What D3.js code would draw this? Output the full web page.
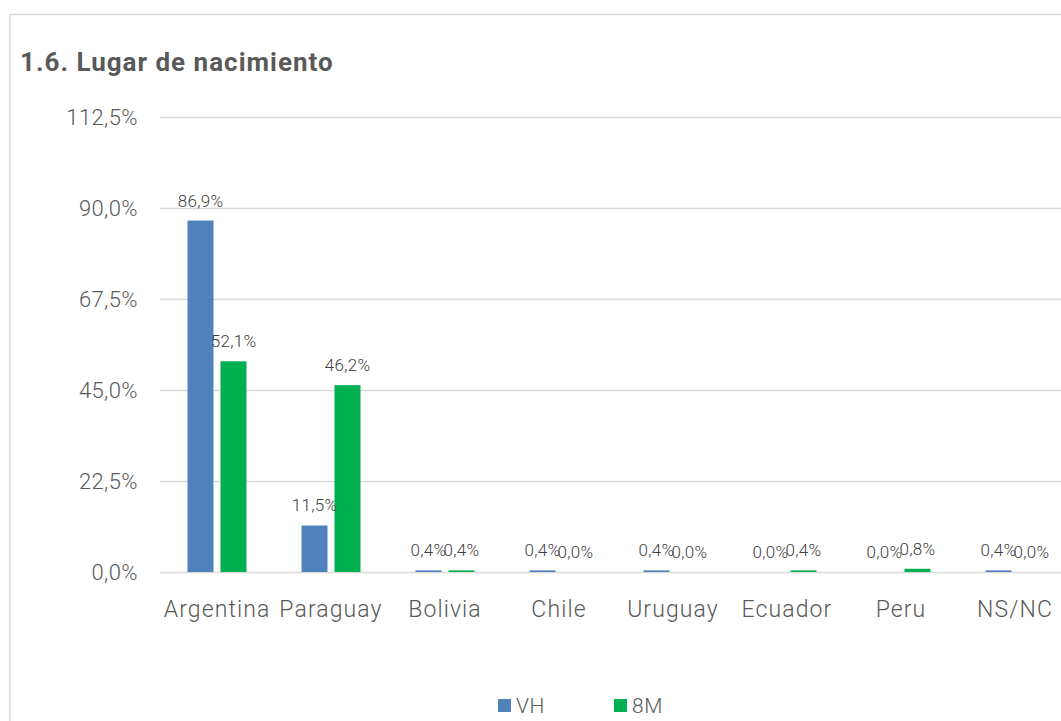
<!DOCTYPE html>
<html>
<head>
<meta charset="utf-8">
<script src="https://cdn.jsdelivr.net/npm/d3@7/dist/d3.min.js"></script>
<style>
  html, body { margin: 0; padding: 0; background: #ffffff; }
  svg { display: block; font-family: Roboto, "Noto Sans", sans-serif; }
</style>
</head>
<body>
<svg id="chart" width="1061" height="721"></svg>
<script>
// Lugar de nacimiento: share of respondents by country of birth
const categories = ["Argentina", "Paraguay", "Bolivia", "Chile", "Uruguay", "Ecuador", "Peru", "NS/NC"];
const seriesNames = ["VH", "8M"];
const vhValues = [86.9, 11.5, 0.4, 0.4, 0.4, 0.0, 0.0, 0.4];
const m8Values = [52.1, 46.2, 0.4, 0.0, 0.0, 0.4, 0.8, 0.0];
const yTicks = [0, 22.5, 45, 67.5, 90, 112.5];
const seriesColors = ["#4f81bd", "#00b050"];

const svg = d3.select("#chart");
const fmt = v => v.toFixed(1).replace(".", ",") + "%";

// outer frame
svg.append("rect")
  .attr("x", 10).attr("y", 14.5)
  .attr("width", 1200).attr("height", 900)
  .attr("fill", "none")
  .attr("stroke", "#d9d9d9")
  .attr("stroke-width", 1.5);

// title
svg.append("text")
  .attr("x", 20).attr("y", 71)
  .attr("font-size", 26)
  .attr("font-weight", 700)
  .attr("letter-spacing", 1)
  .attr("fill", "#595959")
  .text("1.6. Lugar de nacimiento");

const x = d3.scaleBand().domain(categories).range([160, 1072]).paddingInner(0).paddingOuter(0);
const y = d3.scaleLinear().domain([0, 112.5]).range([572, 117]);
const groupW = 59;
const x1 = d3.scaleBand().domain(seriesNames)
  .range([x.bandwidth() / 2 - groupW / 2, x.bandwidth() / 2 + groupW / 2])
  .paddingInner(7 / 33).paddingOuter(0);

// gridlines and value axis
const yAxis = d3.axisLeft(y).tickValues(yTicks).tickSize(-(1072 - 160)).tickFormat(fmt).tickPadding(22);
const gy = svg.append("g").attr("transform", "translate(160,0)").call(yAxis);
gy.select(".domain").remove();
gy.selectAll(".tick line").attr("stroke", "#d9d9d9").attr("stroke-width", 1.5);
gy.selectAll(".tick text")
  .attr("font-size", 22)
  .attr("font-weight", 300)
  .attr("letter-spacing", 0.4)
  .attr("fill", "#595959")
  .attr("font-family", "Roboto, sans-serif");

// bars
const rows = categories.map((c, i) => ({ cat: c, vals: [vhValues[i], m8Values[i]] }));
const groups = svg.append("g").selectAll("g")
  .data(rows).join("g")
  .attr("transform", d => `translate(${x(d.cat)},0)`);

groups.selectAll("rect")
  .data(d => d.vals.map((v, j) => ({ s: seriesNames[j], v, j })))
  .join("rect")
  .attr("x", d => x1(d.s))
  .attr("y", d => y(d.v))
  .attr("width", x1.bandwidth())
  .attr("height", d => y(0) - y(d.v))
  .attr("fill", d => seriesColors[d.j]);

// value labels
groups.selectAll("text")
  .data(d => d.vals.map((v, j) => ({ s: seriesNames[j], v, j })))
  .join("text")
  .attr("x", d => x1(d.s) + x1.bandwidth() / 2)
  .attr("y", d => y(d.v) - 14)
  .attr("text-anchor", "middle")
  .attr("font-size", 17)
  .attr("font-weight", 300)
  .attr("letter-spacing", 0.3)
  .attr("fill", "#404040")
  .text(d => fmt(d.v));

// category axis
const xAxis = d3.axisBottom(x).tickSize(0).tickPadding(0);
const gx = svg.append("g").attr("transform", "translate(0,572)").call(xAxis);
gx.select(".domain").remove();
gx.selectAll(".tick text")
  .attr("dy", 0).attr("y", 45)
  .attr("font-size", 23)
  .attr("font-weight", 300)
  .attr("letter-spacing", 1.1)
  .attr("fill", "#595959")
  .attr("font-family", "Roboto, sans-serif");

// legend
const legendX = [498, 614];
const legend = svg.append("g").selectAll("g")
  .data(seriesNames).join("g")
  .attr("transform", (d, i) => `translate(${legendX[i]},699)`);
legend.append("rect")
  .attr("width", 13).attr("height", 13)
  .attr("fill", (d, i) => seriesColors[i]);
legend.append("text")
  .attr("x", 18).attr("y", 13.5)
  .attr("font-size", 21)
  .attr("font-weight", 300)
  .attr("letter-spacing", 0.5)
  .attr("fill", "#595959")
  .text(d => d);
</script>
</body>
</html>
